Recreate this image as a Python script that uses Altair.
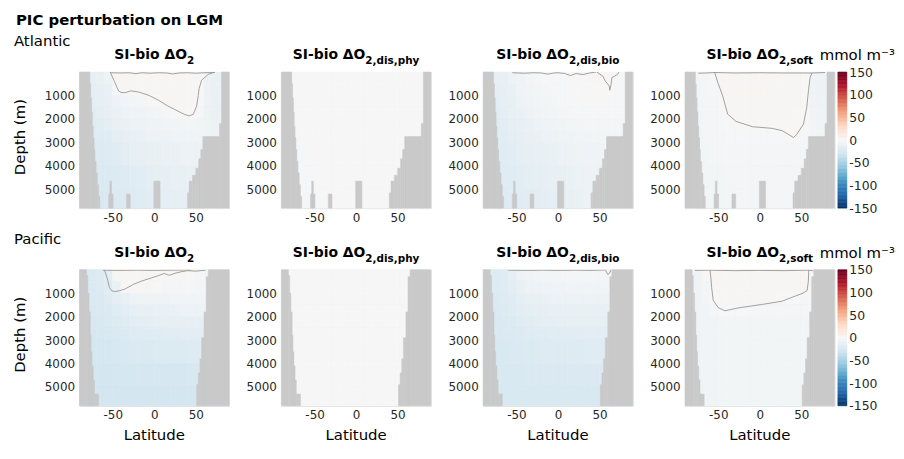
import altair as alt
import pandas as pd

FONT = "DejaVu Sans"
TXT = "#262626"
LAND = "#c9c9c9"
CONTOUR = "#9a9591"

# ---------------- grid ----------------
LAT_EDGES = [-90, -70, -60, -50, -40, -30, -20, -10, 0, 10, 20, 30, 40, 50, 60, 70, 90]
DEPTH_EDGES = [0, 500, 1000, 1500, 2000, 2500, 3000, 4000, 5000, 5800]

# ---------------- fields (mmol m-3), rows = depth layers, cols = lat bins ----------------
ATL_O2 = [
    [-14, -12, -8, 2, 2, 2, 2, 2, 2, 2, 2, 2, 2, 1, -8, -10],
    [-15, -13, -10, -2, 2, 2, 2, 2, 2, 2, 2, 2, 2, 1, -9, -10],
    [-16, -14, -12, -8, -5, -4, -3, -1, 1, 2, 2, 2, 2, -1, -9, -10],
    [-17, -15, -13, -10, -8, -7, -6, -5, -4, -3, -1, 1, 1, -3, -8, -10],
    [-18, -17, -15, -12, -10, -9, -8, -7, -6, -5, -5, -4, -4, -5, -7, -9],
    [-20, -19, -18, -15, -13, -11, -10, -9, -8, -8, -7, -7, -6, -6, -7, -8],
    [-22, -21, -20, -18, -16, -14, -13, -12, -11, -10, -10, -9, -9, -8, -8, -8],
    [-23, -23, -22, -21, -20, -18, -17, -15, -14, -13, -12, -11, -10, -10, -10, -10],
    [-24, -24, -23, -22, -21, -20, -19, -17, -16, -15, -14, -13, -12, -12, -12, -12],
]
ATL_DISPHY = [
    [-1, -1, -1, -1, -1, -1, -1, -1, -1, -1, -1, -1, -1, -1, -1, -1],
    [-1, -1, -1, -1, -1, -1, -1, -1, -1, -1, -1, -1, -1, -1, -1, -1],
    [-1, -1, -1, -1, -1, -1, -1, -1, -1, -1, -1, -1, -1, -1, -1, -1],
    [-1, -1, -1, -1, -1, -1, -1, -1, -1, -1, -1, -1, -1, -1, -1, -1],
    [-1, -1, -1, -1, -1, -1, -1, -1, -1, -1, -1, -1, -1, -1, -1, -1],
    [-2, -1, -1, -1, -1, -1, -1, -1, -1, -1, -1, -1, -1, -1, -1, -1],
    [-2, -2, -1, -1, -1, -1, -1, -1, -1, -1, -1, -1, -1, -1, -1, -1],
    [-2, -2, -2, -1, -1, -1, -1, -1, -1, -1, -1, -1, -1, -1, -1, -1],
    [-2, -2, -2, -2, -1, -1, -1, -1, -1, -1, -1, -1, -1, -1, -1, -1],
]
ATL_DISBIO = [
    [-14, -12, -9, -6, -4, -3, -2, -2, -2, -1, -1, -1, 2, 3, 2, -2],
    [-15, -13, -10, -7, -5, -4, -3, -2, -2, -1, -1, -1, -1, 1, -1, -2],
    [-16, -14, -11, -8, -6, -5, -4, -3, -2, -2, -1, -1, -1, -1, -2, -2],
    [-17, -15, -12, -10, -8, -6, -5, -4, -3, -3, -2, -2, -2, -2, -2, -2],
    [-18, -16, -14, -12, -10, -8, -7, -6, -5, -4, -4, -3, -3, -3, -3, -3],
    [-18, -17, -15, -13, -11, -10, -9, -8, -7, -6, -5, -5, -4, -4, -4, -4],
    [-19, -18, -17, -15, -13, -12, -11, -10, -9, -8, -7, -6, -6, -5, -5, -5],
    [-20, -19, -18, -17, -15, -14, -13, -12, -11, -10, -9, -8, -7, -7, -7, -7],
    [-20, -20, -19, -18, -17, -16, -15, -14, -12, -11, -10, -9, -8, -8, -8, -8],
]
ATL_SOFT = [
    [-4, -3, -2, 2, 2, 2, 2, 2, 2, 2, 2, 2, 2, 1, -6, -8],
    [-4, -3, -2, 2, 3, 3, 3, 3, 3, 2, 2, 2, 2, 1, -7, -8],
    [-4, -3, -3, 1, 2, 2, 2, 2, 2, 2, 2, 2, 2, 1, -6, -7],
    [-4, -3, -3, -1, 2, 2, 2, 2, 2, 2, 2, 2, 1, 1, -5, -6],
    [-4, -3, -3, -2, -1, 1, 1, 1, 1, 1, 1, 1, 1, -1, -4, -5],
    [-4, -3, -3, -3, -2, -2, -2, -2, -2, -2, -2, 1, -1, -2, -3, -4],
    [-4, -4, -3, -3, -3, -3, -3, -3, -3, -3, -3, -3, -3, -3, -3, -3],
    [-4, -4, -4, -4, -3, -3, -3, -3, -3, -3, -3, -3, -3, -3, -3, -3],
    [-4, -4, -4, -4, -4, -3, -3, -3, -3, -3, -3, -3, -3, -3, -3, -3],
]
PAC_O2 = [
    [-22, -20, -16, 2, 2, 2, 2, 2, 2, 2, 2, 2, -2, -3, -4, -4],
    [-22, -21, -18, -10, 1, 2, 2, 2, -2, -3, -3, -3, -3, -4, -4, -4],
    [-23, -22, -20, -15, -12, -9, -7, -6, -6, -6, -5, -5, -5, -5, -5, -5],
    [-24, -23, -22, -19, -16, -14, -12, -11, -10, -10, -10, -9, -9, -9, -9, -9],
    [-25, -24, -23, -21, -19, -17, -16, -15, -14, -14, -13, -13, -13, -13, -13, -13],
    [-26, -25, -24, -23, -22, -20, -19, -18, -18, -17, -17, -16, -16, -16, -16, -16],
    [-27, -27, -26, -25, -24, -23, -22, -22, -21, -21, -21, -21, -20, -20, -20, -20],
    [-28, -28, -28, -27, -27, -27, -26, -26, -26, -26, -26, -26, -25, -25, -25, -25],
    [-28, -28, -28, -28, -28, -28, -28, -28, -28, -28, -28, -28, -28, -28, -28, -28],
]
PAC_DISPHY = [
    [-1, -1, -1, -1, -1, -1, -1, -1, -1, -1, -1, -1, -1, -1, -1, -1],
    [-1, -1, -1, -1, -1, -1, -1, -1, -1, -1, -1, -1, -1, -1, -1, -1],
    [-1, -1, -1, -1, -1, -1, -1, -1, -1, -1, -1, -1, -1, -1, -1, -1],
    [-1, -1, -1, -1, -1, -1, -1, -1, -1, -1, -1, -1, -1, -1, -1, -1],
    [-1, -1, -1, -1, -1, -1, -1, -1, -1, -1, -1, -1, -1, -1, -1, -1],
    [-1, -1, -1, -1, -1, -1, -1, -1, -1, -1, -1, -1, -1, -1, -1, -1],
    [-1, -1, -1, -1, -1, -1, -1, -1, -1, -1, -1, -1, -1, -1, -1, -1],
    [-1, -1, -1, -1, -1, -1, -1, -1, -1, -1, -1, -1, -1, -1, -1, -1],
    [-1, -1, -1, -1, -1, -1, -1, -1, -1, -1, -1, -1, -1, -1, -1, -1],
]
PAC_DISBIO = [
    [-20, -18, -14, -9, -6, -5, -4, -4, -3, -3, -3, -3, -3, -3, -3, -3],
    [-21, -19, -16, -12, -9, -8, -7, -6, -6, -5, -5, -5, -5, -5, -5, -5],
    [-22, -20, -18, -15, -12, -11, -10, -9, -9, -8, -8, -8, -8, -8, -8, -8],
    [-22, -21, -19, -17, -15, -14, -13, -12, -12, -11, -11, -11, -11, -11, -11, -11],
    [-23, -22, -21, -19, -17, -16, -15, -15, -14, -14, -14, -14, -14, -14, -14, -14],
    [-23, -23, -22, -21, -19, -18, -18, -17, -17, -17, -17, -16, -16, -16, -16, -16],
    [-24, -24, -23, -22, -21, -21, -20, -20, -20, -20, -20, -19, -19, -19, -19, -19],
    [-24, -24, -24, -24, -23, -23, -23, -23, -23, -23, -22, -22, -22, -22, -22, -22],
    [-24, -24, -24, -24, -24, -24, -24, -24, -24, -24, -24, -24, -24, -24, -24, -24],
]
PAC_SOFT = [
    [-6, 1, 2, 2, 2, 2, 2, 2, 2, 2, 2, 2, 2, 2, -2, -2],
    [-6, -4, 2, 2, 2, 2, 2, 2, 2, 2, 2, 2, 2, 2, -3, -3],
    [-6, -4, 1, 2, 2, 2, 2, 2, 2, 2, -1, -2, -2, -3, -3, -3],
    [-6, -5, -3, -2, -2, -2, -2, -3, -3, -3, -3, -3, -3, -3, -3, -3],
    [-6, -5, -5, -4, -4, -4, -4, -4, -4, -4, -4, -4, -4, -4, -4, -4],
    [-6, -5, -5, -4, -4, -4, -4, -4, -4, -4, -4, -4, -4, -4, -4, -4],
    [-6, -5, -5, -4, -4, -4, -4, -4, -4, -4, -4, -4, -4, -4, -4, -4],
    [-6, -5, -5, -4, -4, -4, -4, -4, -4, -4, -4, -4, -4, -4, -4, -4],
    [-6, -5, -5, -4, -4, -4, -4, -4, -4, -4, -4, -4, -4, -4, -4, -4],
]

# ---------------- land masks: (lat from, lat to, depth where land starts) ----------------
ATL_LAND_LAT0 = [-90, -77.5, -76.5, -75.5, -74.5, -73.5, -72.5, -71.5, -70, -68.5, -67,
                 81, 78.5, 58.5, 56, 53.5, 50, 46, 42, 40, -55, -53.5, -33.5, -0.5]
ATL_LAND_LAT1 = [-77.5, -76.5, -75.5, -74.5, -73.5, -72.5, -71.5, -70, -68.5, -67, -65.5,
                 90, 81, 78.5, 58.5, 56, 53.5, 50, 46, 42, -49.5, -51.5, -29, 7]
ATL_LAND_TOP = [0, 500, 1100, 1700, 2300, 2800, 3300, 3800, 4300, 4800, 5300,
                0, 2200, 2750, 3300, 3700, 4100, 4400, 4650, 5150, 5200, 4650, 5200, 4650]

PAC_LAND_LAT0 = [-90, -81.5, -80, -78.5, -77, -76, -75, -73.5, -72,
                 65, 62.5, 60, 57, 55, 53, 51]
PAC_LAND_LAT1 = [-81.5, -80, -78.5, -77, -76, -75, -73.5, -72, -67,
                 90, 65, 62.5, 60, 57, 55, 53]
PAC_LAND_TOP = [0, 250, 1000, 1800, 2800, 3500, 4100, 4700, 5300,
                0, 300, 1800, 2900, 3800, 4400, 4900]

# ---------------- zero contours (lat, depth) ----------------
ATL_O2_C_LAT = [-53, -48, -43, -40, -35, -28, -18, -6, 5, 16, 26, 36, 42, 47, 51, 53, 54, 57, 65, 73]
ATL_O2_C_DEP = [0, 400, 800, 870, 880, 800, 860, 1000, 1200, 1440, 1620, 1800, 1870, 1800, 1450, 1000, 700, 350, 100, 0]
ATL_O2_S_LAT = [-53, -40, -30, -22, -15, -5, 5, 15, 22, 30, 40, 50, 60, 73]
ATL_O2_S_DEP = [30, 40, 30, 70, 30, 50, 30, 40, 80, 40, 30, 50, 30, 20]

ATL_BIO_C_LAT = [46.7, 54, 57, 61.7, 62.4, 64, 65, 71.7, 73.5]
ATL_BIO_C_DEP = [0, 170, 380, 590, 775, 520, 240, 100, 0]
ATL_BIO_S_LAT = [-55, -40, -30, -20, -12, -5, 0, 8, 15, 22, 30, 38, 46]
ATL_BIO_S_DEP = [30, 50, 30, 40, 90, 40, 30, 60, 150, 60, 110, 40, 0]

ATL_SOFT_C_LAT = [-54.5, -50, -44.6, -38.7, -28.8, -8.9, 15, 27, 40.7, 44.7, 52.6, 56.6, 58.6, 60.6, 63, 78.6]
ATL_SOFT_C_DEP = [0, 500, 1015, 1790, 2100, 2330, 2400, 2500, 2790, 2650, 2220, 1500, 800, 230, 40, 20]
ATL_SOFT_S_LAT = [-74, -65, -54.5, -30, 0, 30, 63]
ATL_SOFT_S_DEP = [50, 40, 20, 40, 30, 40, 40]

PAC_O2_C_LAT = [-60, -56, -54, -51, -47, -42, -35, -25, -15, -5, 5, 12, 18, 25, 32, 40, 50, 62]
PAC_O2_C_DEP = [0, 450, 760, 900, 930, 900, 820, 620, 480, 370, 250, 160, 240, 150, 90, 40, 60, 20]
PAC_O2_S_LAT = [-62, -40, -20, 0, 20, 44]
PAC_O2_S_DEP = [20, 30, 20, 30, 20, 10]

PAC_BIO_C_LAT = [57, 60, 62, 64]
PAC_BIO_C_DEP = [0, 200, 150, 0]
PAC_BIO_S_LAT = [-60, -40, -20, 0, 20, 40, 57]
PAC_BIO_S_DEP = [20, 30, 20, 30, 20, 30, 10]

PAC_SOFT_C_LAT = [-60, -59, -58, -56, -50, -42, -24.5, 3, 27, 43, 52, 57, 58.5, 59]
PAC_SOFT_C_DEP = [0, 300, 750, 1310, 1620, 1750, 1620, 1480, 1340, 1120, 1000, 890, 500, 0]
PAC_SOFT_S_LAT = [-78, -60, -30, 0, 30, 59, 64]
PAC_SOFT_S_DEP = [30, 20, 40, 30, 40, 20, 40]

# ---------------- labels ----------------
MAIN_TITLE = "PIC perturbation on LGM"
ROW_LABELS = ["Atlantic", "Pacific"]
PANEL_MAIN = "SI-bio ΔO"
PANEL_SUBS = ["2", "2,dis,phy", "2,dis,bio", "2,soft"]
UNIT = "mmol m⁻³"
X_TICKS = [-50, 0, 50]
Y_TICKS = [1000, 2000, 3000, 4000, 5000]
CBAR_TICKS = [-150, -100, -50, 0, 50, 100, 150]
CBAR_STEPS = list(range(-150, 151, 3))

CMAP_DOMAIN = [-150, -120, -90, -60, -30, 0, 30, 60, 90, 120, 150]
CMAP_COLORS = ["#053061", "#2166ac", "#4393c3", "#92c5de", "#d1e5f0", "#f7f7f7",
               "#fddbc7", "#f4a582", "#d6604d", "#b2182b", "#67001f"]

PW, PH = 150.5, 137
HSP, VSP = 52.2, 62
CB_GAP, CB_W = 3.4, 9

cscale = alt.Scale(domain=CMAP_DOMAIN, range=CMAP_COLORS, interpolate="rgb")
xscale = alt.Scale(domain=[-90, 90], nice=False, zero=False)
yscale = alt.Scale(domain=[0, 5800], nice=False, zero=False, reverse=True)

X_AXIS = alt.Axis(values=X_TICKS, labelExpr="'' + datum.value", title=None, ticks=False,
                  domain=False, grid=False, labelFont=FONT, labelFontSize=12,
                  labelColor=TXT, labelPadding=4, labelOverlap=False)
Y_AXIS = alt.Axis(values=Y_TICKS, labelExpr="'' + datum.value", title=None, ticks=False,
                  domain=False, grid=False, labelFont=FONT, labelFontSize=12,
                  labelColor=TXT, labelPadding=5, labelOverlap=False)

BOLDW = {'S': .720, 'I': .372, '-': .415, 'b': .716, 'i': .343, 'o': .687, ' ': .348,
         'Δ': .774, 'O': .850, '2': .696, ',': .380, 'd': .716, 's': .595, 'p': .716,
         'h': .712, 'y': .652, 'f': .435, 't': .478}
MAIN_FS, SUB_FS = 14, 10.5


def textw(s, fs):
    return sum(BOLDW.get(c, .65) for c in s) * fs


def cells(field):
    rows = []
    for i in range(len(DEPTH_EDGES) - 1):
        for j in range(len(LAT_EDGES) - 1):
            rows.append(dict(lat0=LAT_EDGES[j], lat1=LAT_EDGES[j + 1],
                             d0=DEPTH_EDGES[i], d1=DEPTH_EDGES[i + 1], v=field[i][j]))
    return pd.DataFrame(rows)


def text_layer(s, x, y, size, bold=False, align="left", angle=0, baseline="alphabetic"):
    kw = dict(font=FONT, fontSize=size, align=align, baseline=baseline, color="black")
    if bold:
        kw["fontWeight"] = "bold"
    if angle:
        kw["angle"] = angle
    return alt.Chart(pd.DataFrame({"t": [s]})).mark_text(**kw).encode(
        x=alt.value(x), y=alt.value(y), text="t:N")


def colorbar_layer():
    df = pd.DataFrame({"v0": CBAR_STEPS[:-1], "v1": CBAR_STEPS[1:]})
    df["v"] = (df["v0"] + df["v1"]) / 2
    bar = alt.Chart(df).mark_rect(strokeWidth=0.6).encode(
        x=alt.value(PW + CB_GAP), x2=alt.value(PW + CB_GAP + CB_W),
        y=alt.Y("v0:Q", scale=alt.Scale(domain=[-150, 150], nice=False, zero=False),
                axis=alt.Axis(orient="right", values=CBAR_TICKS, labelExpr="'' + datum.value",
                              title=None, ticks=False, domain=False, grid=False,
                              labelFont=FONT, labelFontSize=12.5, labelColor=TXT,
                              labelOverlap=False, offset=CB_GAP + CB_W, labelPadding=2)),
        y2="v1:Q",
        color=alt.Color("v:Q", scale=cscale, legend=None),
        stroke=alt.Stroke("v:Q", scale=cscale, legend=None),
    )
    unit = text_layer(UNIT, PW + CB_GAP + CB_W / 2 + 15, -12, 15, align="center")
    return alt.layer(bar, unit)


def panel(field, land, contours, k, row):
    heat = alt.Chart(cells(field)).mark_rect(strokeWidth=0.6).encode(
        x=alt.X("lat0:Q", scale=xscale, axis=X_AXIS),
        x2="lat1:Q",
        y=alt.Y("d0:Q", scale=yscale, axis=Y_AXIS),
        y2="d1:Q",
        color=alt.Color("v:Q", scale=cscale, legend=None),
        stroke=alt.Stroke("v:Q", scale=cscale, legend=None),
    )
    lat0, lat1, top = land
    land_df = pd.DataFrame({"lat0": lat0, "lat1": lat1, "top": top,
                            "bot": [DEPTH_EDGES[-1]] * len(top)})
    landl = alt.Chart(land_df).mark_rect(color=LAND, stroke=LAND, strokeWidth=0.5).encode(
        x=alt.X("lat0:Q", scale=xscale, axis=X_AXIS), x2="lat1:Q",
        y=alt.Y("top:Q", scale=yscale, axis=Y_AXIS), y2="bot:Q")
    layers = [heat, landl]
    if contours:
        recs = []
        for si, (la, de) in enumerate(contours):
            for ii, (a, b) in enumerate(zip(la, de)):
                recs.append(dict(lat=a, dep=b, seg=si, idx=ii))
        layers.append(alt.Chart(pd.DataFrame(recs)).mark_line(
            color=CONTOUR, strokeWidth=0.9, clip=True).encode(
            x=alt.X("lat:Q", scale=xscale, axis=X_AXIS),
            y=alt.Y("dep:Q", scale=yscale, axis=Y_AXIS),
            detail="seg:N", order="idx:Q"))
    sub = PANEL_SUBS[k]
    mw = textw(PANEL_MAIN, MAIN_FS)
    sw = textw(sub, SUB_FS)
    anchor = PW / 2 - (mw + sw) / 2 + mw
    layers.append(text_layer(PANEL_MAIN, anchor, -13, MAIN_FS, bold=True, align="right"))
    layers.append(text_layer(sub, anchor, -8, SUB_FS, bold=True, align="left"))
    if k == 0:
        layers.append(text_layer("Depth (m)", -60, PH / 2 - 3, 15, align="center",
                                 angle=270, baseline="middle"))
        layers.append(text_layer(ROW_LABELS[row], -66, -26, 15))
        if row == 0:
            layers.append(text_layer(MAIN_TITLE, -64, -47, 15, bold=True))
    if row == 1:
        layers.append(text_layer("Latitude", PW / 2, PH + 34, 15, align="center"))
    base = alt.layer(*layers)
    if k == 3:
        return alt.layer(base, colorbar_layer()).resolve_scale(y="independent").properties(
            width=PW, height=PH)
    return base.properties(width=PW, height=PH)


ATL_LAND = (ATL_LAND_LAT0, ATL_LAND_LAT1, ATL_LAND_TOP)
PAC_LAND = (PAC_LAND_LAT0, PAC_LAND_LAT1, PAC_LAND_TOP)

panels = [
    panel(ATL_O2, ATL_LAND, [(ATL_O2_C_LAT, ATL_O2_C_DEP), (ATL_O2_S_LAT, ATL_O2_S_DEP)], 0, 0),
    panel(ATL_DISPHY, ATL_LAND, None, 1, 0),
    panel(ATL_DISBIO, ATL_LAND, [(ATL_BIO_C_LAT, ATL_BIO_C_DEP), (ATL_BIO_S_LAT, ATL_BIO_S_DEP)], 2, 0),
    panel(ATL_SOFT, ATL_LAND, [(ATL_SOFT_C_LAT, ATL_SOFT_C_DEP), (ATL_SOFT_S_LAT, ATL_SOFT_S_DEP)], 3, 0),
    panel(PAC_O2, PAC_LAND, [(PAC_O2_C_LAT, PAC_O2_C_DEP), (PAC_O2_S_LAT, PAC_O2_S_DEP)], 0, 1),
    panel(PAC_DISPHY, PAC_LAND, None, 1, 1),
    panel(PAC_DISBIO, PAC_LAND, [(PAC_BIO_C_LAT, PAC_BIO_C_DEP), (PAC_BIO_S_LAT, PAC_BIO_S_DEP)], 2, 1),
    panel(PAC_SOFT, PAC_LAND, [(PAC_SOFT_C_LAT, PAC_SOFT_C_DEP), (PAC_SOFT_S_LAT, PAC_SOFT_S_DEP)], 3, 1),
]

chart = alt.concat(*panels, columns=4, spacing={"row": VSP, "column": HSP},
                   bounds="flush").properties(
    padding={"left": 4, "top": 3, "right": 0, "bottom": 0}
).configure_view(stroke=None).configure_axis(labelOverlap=False).configure(font=FONT)

chart.save("out.html", embed_options={"renderer": "svg", "actions": False})
